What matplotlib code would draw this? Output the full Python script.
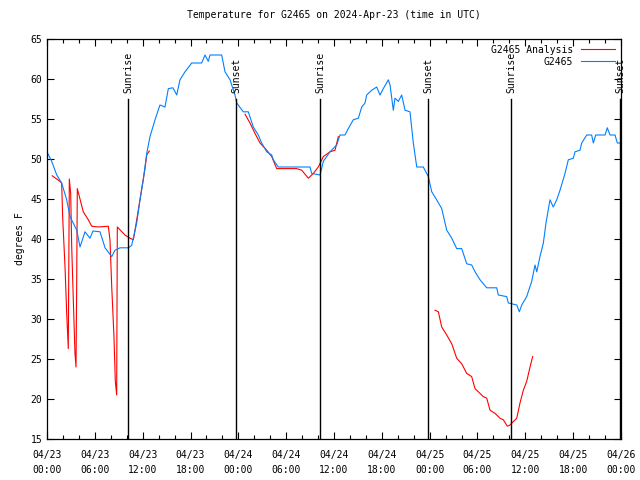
import matplotlib
matplotlib.use('Agg')
import matplotlib.pyplot as plt
import numpy as np

# hours since 2024-04-23 00:00 UTC
obs_hours = [0.0, 0.59, 1.22, 1.84, 2.47, 2.89, 3.73, 4.14, 4.77, 5.39, 5.77, 6.65, 7.28, 8.12,
             8.53, 9.16, 10.2, 10.62, 11.25, 11.67, 12.08, 12.51, 12.92, 13.55, 14.17, 14.8, 15.22,
             15.8, 16.27, 16.68, 17.31, 18.15, 19.4, 19.82, 20.23, 20.45, 21.91, 22.33, 22.96, 23.58,
             23.8, 24.62, 25.25, 25.88, 26.5, 26.93, 27.56, 28.19, 28.39, 29.01, 32.99, 33.2, 34.25,
             34.66, 35.5, 36.34, 36.75, 37.38, 37.79, 38.42, 39.05, 39.48, 39.89, 40.1, 40.73, 41.36,
             41.77, 42.19, 42.81, 43.03, 43.44, 43.65, 44.07, 44.49, 44.91, 45.53, 45.95, 46.38, 47.2,
             47.83, 48.26, 48.88, 49.51, 50.14, 50.77, 51.39, 52.02, 52.65, 53.27, 53.69, 54.32, 55.16,
             56.41, 56.61, 57.66, 57.87, 58.92, 59.25, 59.55, 60.17, 60.8, 61.21, 61.43, 61.84, 62.26,
             62.59, 63.09, 63.5, 63.94, 64.35, 64.98, 65.39, 66.02, 66.23, 66.86, 67.07, 67.7, 68.32,
             68.53, 68.83, 70.0, 70.28, 70.62, 71.25, 71.54, 71.88]
obs_temp = [50.9, 49.7, 48.0, 47.0, 44.9, 42.8, 41.1, 39.0, 40.9, 40.1, 41.0, 40.9, 38.9, 37.8,
            38.6, 38.9, 38.9, 39.2, 42.0, 44.9, 47.4, 50.7, 52.8, 54.9, 56.75, 56.5, 58.8,
            58.9, 58.0, 59.9, 60.9, 62.0, 62.0, 63.0, 62.2, 63.0, 63.0, 60.9, 59.9, 58.0,
            57.0, 55.9, 55.9, 54.0, 53.0, 52.0, 50.9, 50.5, 49.9, 49.0, 49.0, 48.2, 48.0,
            49.7, 50.9, 51.75, 53.0, 53.0, 53.8, 54.9, 55.1, 56.5, 57.0, 58.0, 58.6, 59.0,
            58.0, 58.8, 59.9, 59.25, 56.1, 57.6, 57.2, 58.0, 56.1, 55.9, 52.0, 49.0, 49.0,
            47.8, 45.9, 44.9, 43.8, 41.1, 40.1, 38.8, 38.8, 36.9, 36.75, 35.9, 34.9, 33.9,
            33.9, 33.0, 32.8, 32.0, 31.75, 30.9, 31.75, 32.8, 34.7, 36.75, 35.9, 37.8, 39.5,
            42.0, 44.9, 44.0, 44.9, 46.1, 48.2, 49.9, 50.1, 50.9, 51.1, 52.0, 53.0, 53.0,
            52.0, 53.0, 53.0, 53.9, 53.0, 53.0, 52.0, 52.0]

ana_hours = [0.66, 1.63, 1.84, 1.97, 2.26, 2.47, 2.67, 2.8, 2.97, 3.1, 3.3, 3.51, 3.64, 3.73, 3.8,
             4.14, 4.55, 5.18, 5.61, 6.44, 7.69, 7.9, 8.12, 8.4, 8.57, 8.74, 8.82, 9.78, 10.41,
             10.83, 11.04, 11.45, 11.88, 12.29, 12.51, 12.83, 18.0,
             24.84, 25.46, 26.09, 26.72, 27.56, 28.19, 28.81, 31.32, 31.95, 32.78, 33.41, 34.03,
             34.66, 35.5, 36.13, 36.54, 42.0,
             48.67, 49.09, 49.51, 50.14, 50.77, 51.39, 52.02, 52.65, 53.27, 53.69, 54.73, 55.16,
             55.57, 56.2, 56.82, 57.24, 57.74, 58.08, 58.92, 59.33, 59.75, 60.17, 60.59, 60.92]
ana_temp = [47.9, 47.2, 47.0, 42.6, 36.5, 30.7, 26.3, 47.5, 45.7, 39.0, 32.4, 25.7, 24.0, 35.3, 46.3,
            45.0, 43.4, 42.4, 41.6, 41.5, 41.6, 39.9, 34.0, 27.8, 22.2, 20.5, 41.5, 40.5, 40.1,
            39.9, 41.1, 43.6, 46.3, 48.8, 50.5, 51.0, np.nan,
            55.6, 54.5, 53.2, 52.0, 51.1, 50.3, 48.8, 48.8, 48.6, 47.6, 48.2, 49.0,
            50.3, 50.9, 51.1, 52.8, np.nan,
            31.1, 30.9, 29.0, 28.0, 26.9, 25.1, 24.4, 23.2, 22.8, 21.3, 20.3, 20.1,
            18.6, 18.2, 17.6, 17.4, 16.6, 16.75, 17.6, 19.5, 21.1, 22.2, 24.0, 25.3]

sun_hours = [10.16, 23.71, 34.25, 47.79, 58.2, 71.88]
sun_names = ['Sunrise', 'Sunset', 'Sunrise', 'Sunset', 'Sunrise', 'Sunset']

tick_hours = list(range(0, 73, 6))
tick_labels = ['04/23\n00:00', '04/23\n06:00', '04/23\n12:00', '04/23\n18:00',
               '04/24\n00:00', '04/24\n06:00', '04/24\n12:00', '04/24\n18:00',
               '04/25\n00:00', '04/25\n06:00', '04/25\n12:00', '04/25\n18:00',
               '04/26\n00:00']

plt.rcParams['font.family'] = 'DejaVu Sans Mono'
plt.rcParams['font.size'] = 6.5

fig = plt.figure(figsize=(6.4, 4.8), dpi=100)
ax = fig.add_axes([47/640, 41/480, 574/640, 400/480])

ax.plot(ana_hours, ana_temp, color='#ff0000', lw=0.8, label='G2465 Analysis')
ax.plot(obs_hours, obs_temp, color='#0080ff', lw=0.8, label='G2465')

for h, name in zip(sun_hours, sun_names):
    ax.plot([h, h], [15, 57.5], color='black', lw=1.0)
    ax.text(h, 58.3, name, rotation=90, ha='center', va='bottom', fontsize=7)

ax.set_xlim(0, 72)
ax.set_ylim(15, 65)
ax.set_xticks(tick_hours)
ax.set_xticklabels(tick_labels, fontsize=7, linespacing=1.6)
ax.set_xticks(range(0, 73, 2), minor=True)
ax.set_yticks(range(15, 66, 5))
ax.tick_params(which='both', direction='in', top=True, right=True, labelsize=7)
ax.tick_params(which='major', length=5, width=0.8)
ax.tick_params(which='minor', length=3, width=0.8)
ax.tick_params(axis='x', which='major', pad=8)
for s in ax.spines.values():
    s.set_linewidth(0.9)

ax.set_ylabel('degrees F', fontsize=7)
ax.set_title('Temperature for G2465 on 2024-Apr-23 (time in UTC)', fontsize=7, pad=15)
ax.legend(loc='upper right', frameon=False, markerfirst=False, fontsize=7,
          handlelength=3.5, borderaxespad=0.2, labelspacing=0.2)

fig.savefig('out.png', dpi=100)
